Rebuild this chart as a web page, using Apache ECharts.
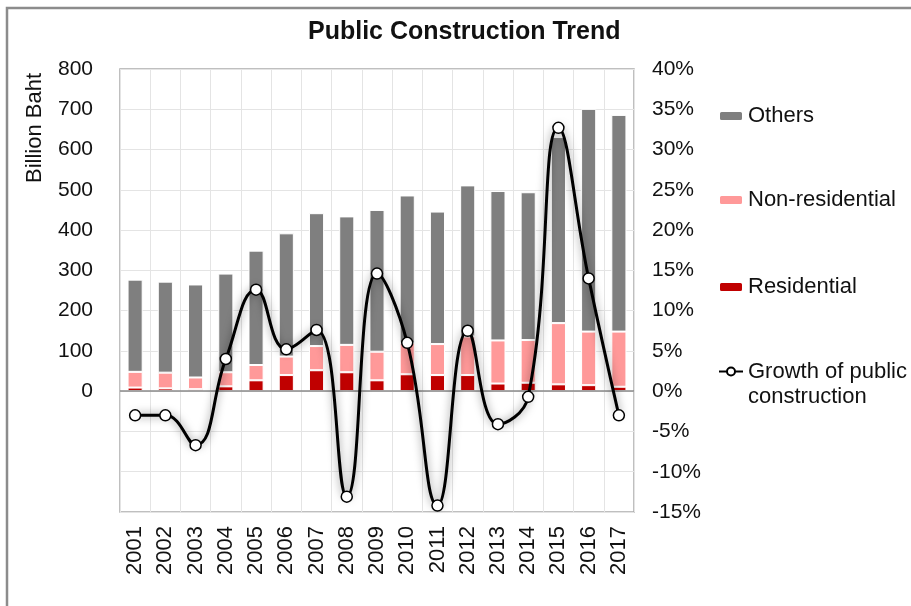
<!DOCTYPE html>
<html>
<head>
<meta charset="utf-8">
<script src="https://cdn.jsdelivr.net/npm/echarts@6/dist/echarts.min.js"></script>
<style>
html,body{margin:0;padding:0;background:#fff;}
#chart{width:911px;height:606px;}
</style>
</head>
<body>
<div id="chart"></div>
<script>
var years = ['2001','2002','2003','2004','2005','2006','2007','2008','2009','2010','2011','2012','2013','2014','2015','2016','2017'];
var residential = [9, 7, 5, 12, 27, 40, 52, 47, 27, 42, 40, 40, 19, 21, 17, 15, 11];
var nonResidential = [39, 39, 29, 35, 38, 46, 60, 68, 71, 78, 77, 96, 107, 106, 152, 133, 137];
var others = [229, 226, 231, 245, 284, 306, 330, 319, 352, 366, 329, 375, 371, 367, 462, 553, 538];
var growth = [-3.0, -3.0, -6.7, 4.0, 12.6, 5.2, 7.6, -13.1, 14.6, 6.0, -14.2, 7.5, -4.1, -0.7, 32.7, 14.0, -3.0];
var leftTicks = [0, 100, 200, 300, 400, 500, 600, 700, 800];

var FONT = "'Liberation Sans', Arial, sans-serif";
var chart = echarts.init(document.getElementById('chart'), null, {renderer: 'canvas'});

function legendFor(name, top, label, extra) {
  var ts = {fontFamily: FONT, fontSize: 22, color: '#111'};
  if (extra) { for (var k in extra) ts[k] = extra[k]; }
  return {
    data: [name], orient: 'vertical', left: 718, top: top, padding: 0,
    itemWidth: 24, itemHeight: 10, itemGap: 0, selectedMode: false,
    textStyle: ts,
    formatter: label
  };
}

var option = {
  backgroundColor: '#ffffff',
  animation: false,
  title: {
    text: 'Public Construction Trend',
    left: 308, top: 20, padding: 0,
    textStyle: {fontFamily: FONT, fontSize: 25, fontWeight: 'bold', color: '#111'}
  },
  legend: [
    legendFor('Others', 105, '{name}'),
    legendFor('Non-residential', 189, '{name}'),
    legendFor('Residential', 276, '{name}'),
    legendFor('Growth of public construction', 334, '\nGrowth of public\nconstruction', {lineHeight: 25})
  ],
  grid: {
    left: 120, right: 277, top: 69, bottom: 94,
    show: true, borderColor: '#aaaaaa', borderWidth: 1.5, backgroundColor: 'transparent'
  },
  xAxis: {
    type: 'category', data: years, boundaryGap: true,
    axisLine: {show: false, onZero: false},
    axisTick: {show: false},
    splitLine: {show: true, interval: 0, lineStyle: {color: '#e4e4e4', width: 1}},
    axisLabel: {rotate: 90, interval: 0, margin: 14, fontFamily: FONT, fontSize: 22, color: '#111'}
  },
  yAxis: [
    {
      type: 'value', min: -300, max: 800, interval: 100,
      axisLine: {show: false}, axisTick: {show: false},
      splitLine: {show: true, lineStyle: {color: '#e4e4e4', width: 1}},
      axisLabel: {
        margin: 27, fontFamily: FONT, fontSize: 21, color: '#111',
        formatter: function (v) { return leftTicks.indexOf(v) >= 0 ? String(v) : ''; }
      }
    },
    {
      type: 'value', min: -15, max: 40, interval: 5,
      axisLine: {show: false}, axisTick: {show: false},
      splitLine: {show: false},
      axisLabel: {margin: 18, fontFamily: FONT, fontSize: 21, color: '#111', formatter: '{value}%'}
    }
  ],
  graphic: [
    {
      type: 'text', x: 35, y: 128, rotation: Math.PI / 2,
      style: {text: 'Billion Baht', fontFamily: FONT, fontSize: 22, fill: '#111', align: 'center', verticalAlign: 'middle'}
    },
    {
      type: 'polyline', silent: true,
      shape: {points: [[7, 606], [7, 8], [911, 8]]},
      style: {stroke: '#8c8c8c', lineWidth: 2.5, fill: null}
    }
  ],
  series: [
    {
      name: 'Residential', type: 'bar', stack: 'total', data: residential, barWidth: '50%',
      itemStyle: {color: '#c00000', borderColor: '#ffffff', borderWidth: 1},
      markLine: {
        silent: true, symbol: ['none', 'none'], label: {show: false},
        lineStyle: {color: '#8a8a8a', type: 'solid', width: 1.5},
        data: [{yAxis: 0}]
      }
    },
    {
      name: 'Non-residential', type: 'bar', stack: 'total', data: nonResidential,
      itemStyle: {color: '#ff9999', borderColor: '#ffffff', borderWidth: 1}
    },
    {
      name: 'Others', type: 'bar', stack: 'total', data: others,
      itemStyle: {color: '#7f7f7f', borderColor: '#ffffff', borderWidth: 1}
    },
    {
      name: 'Growth of public construction', type: 'line', yAxisIndex: 1, data: growth,
      smooth: 0.45, z: 5,
      symbol: 'circle', symbolSize: 11,
      lineStyle: {color: '#000000', width: 3, shadowColor: 'rgba(0,0,0,0.5)', shadowBlur: 8},
      itemStyle: {color: '#ffffff', borderColor: '#000000', borderWidth: 1.5}
    }
  ]
};
chart.setOption(option);
</script>
</body>
</html>
